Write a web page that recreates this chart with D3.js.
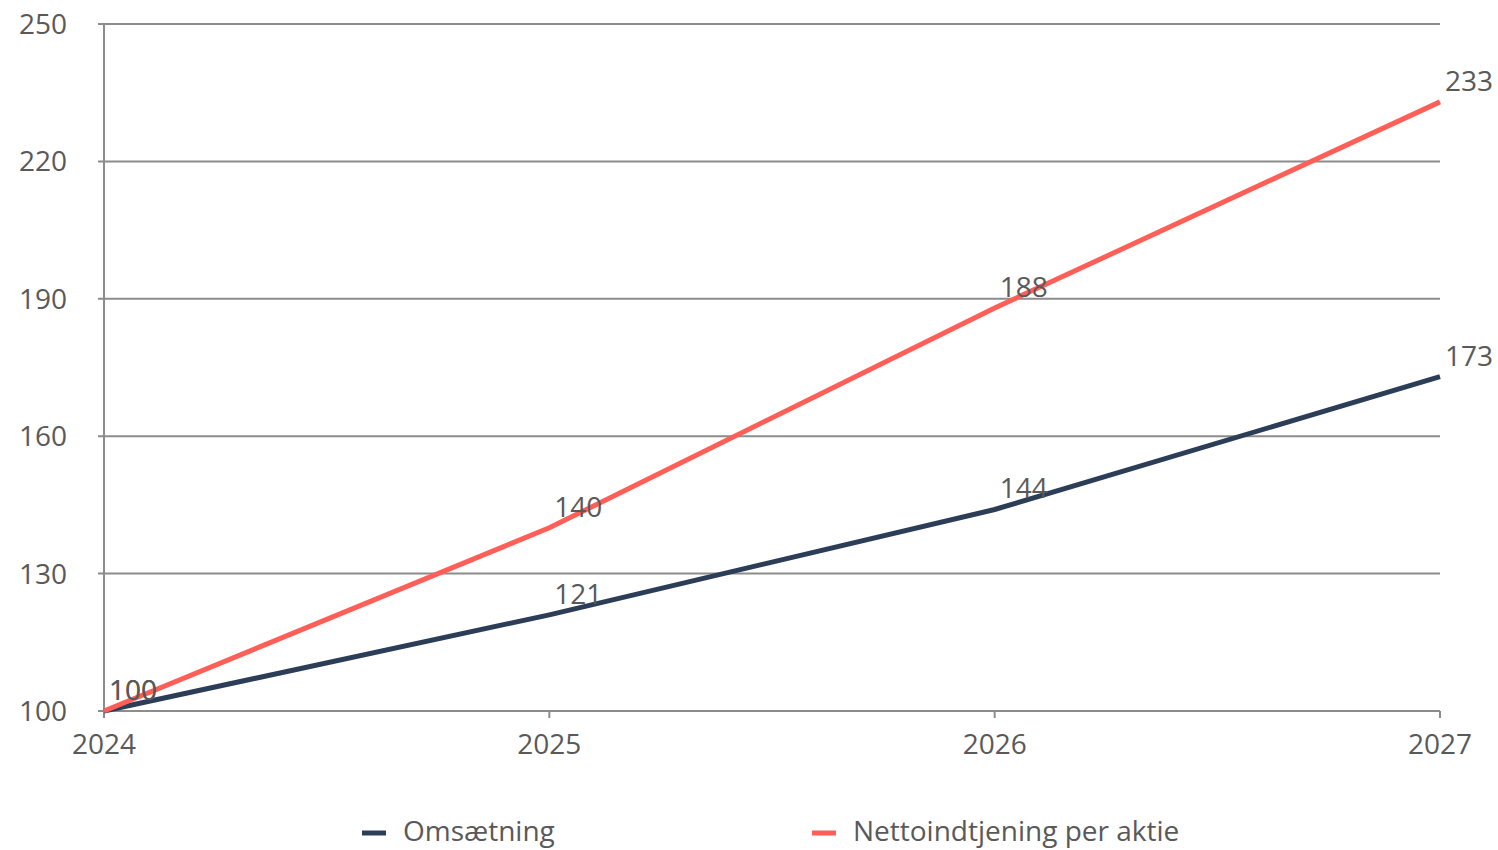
<!DOCTYPE html>
<html><head><meta charset="utf-8">
<script src="https://cdn.jsdelivr.net/npm/d3@7"></script>
<style>body{margin:0;background:#fff}svg{display:block}text{font-family:"Open Sans",sans-serif;fill:#595959}</style>
</head><body><svg id="c" width="1498" height="850"></svg>
<script>
const years = ["2024","2025","2026","2027"];
const omsaetning = [100,121,144,173];
const nettoindtjening = [100,140,188,233];
const yTicks = [100,130,160,190,220,250];
const seriesNames = ["Omsætning","Nettoindtjening per aktie"];
const colors = ["#2c3e57","#ff5f57"];

const svg = d3.select("#c");
const x = d3.scalePoint().domain(years).range([104,1440]);
const y = d3.scaleLinear().domain([100,250]).range([711,24]);

svg.append("g").selectAll("line").data(yTicks).join("line")
  .attr("x1",98).attr("x2",1440).attr("y1",d=>y(d)).attr("y2",d=>y(d))
  .attr("stroke","#8c8c8c").attr("stroke-width",2);
svg.append("line").attr("x1",104).attr("x2",104).attr("y1",y(250)).attr("y2",y(100)+7)
  .attr("stroke","#8c8c8c").attr("stroke-width",2);
svg.append("g").selectAll("line").data(years).join("line")
  .attr("x1",d=>x(d)).attr("x2",d=>x(d)).attr("y1",y(100)).attr("y2",y(100)+7)
  .attr("stroke","#8c8c8c").attr("stroke-width",2);
svg.append("g").selectAll("text").data(yTicks).join("text")
  .attr("x",67).attr("y",d=>y(d)+10).attr("text-anchor","end")
  .style("font-size","28px").text(d=>d);
svg.append("g").selectAll("text").data(years).join("text")
  .attr("x",d=>x(d)).attr("y",754).attr("text-anchor","middle")
  .style("font-size","28px").text(d=>d);

const series = [omsaetning, nettoindtjening];
const line = d3.line().x((d,i)=>x(years[i])).y(d=>y(d));
series.forEach((s,k)=>{
  svg.append("path").datum(s).attr("d",line).attr("fill","none")
    .attr("stroke",colors[k]).attr("stroke-width",5);
});
series.forEach((s,k)=>{
  svg.append("g").selectAll("text").data(s).join("text")
    .attr("x",(d,i)=>x(years[i])+5).attr("y",d=>y(d)-11)
    .style("font-size","28px").text(d=>d);
});

const legX = [362,812];
seriesNames.forEach((n,k)=>{
  svg.append("line").attr("x1",legX[k]).attr("x2",legX[k]+24).attr("y1",833).attr("y2",833)
    .attr("stroke",colors[k]).attr("stroke-width",5);
  svg.append("text").attr("x",legX[k]+41).attr("y",841).style("font-size","28px").text(n);
});
</script></body></html>
